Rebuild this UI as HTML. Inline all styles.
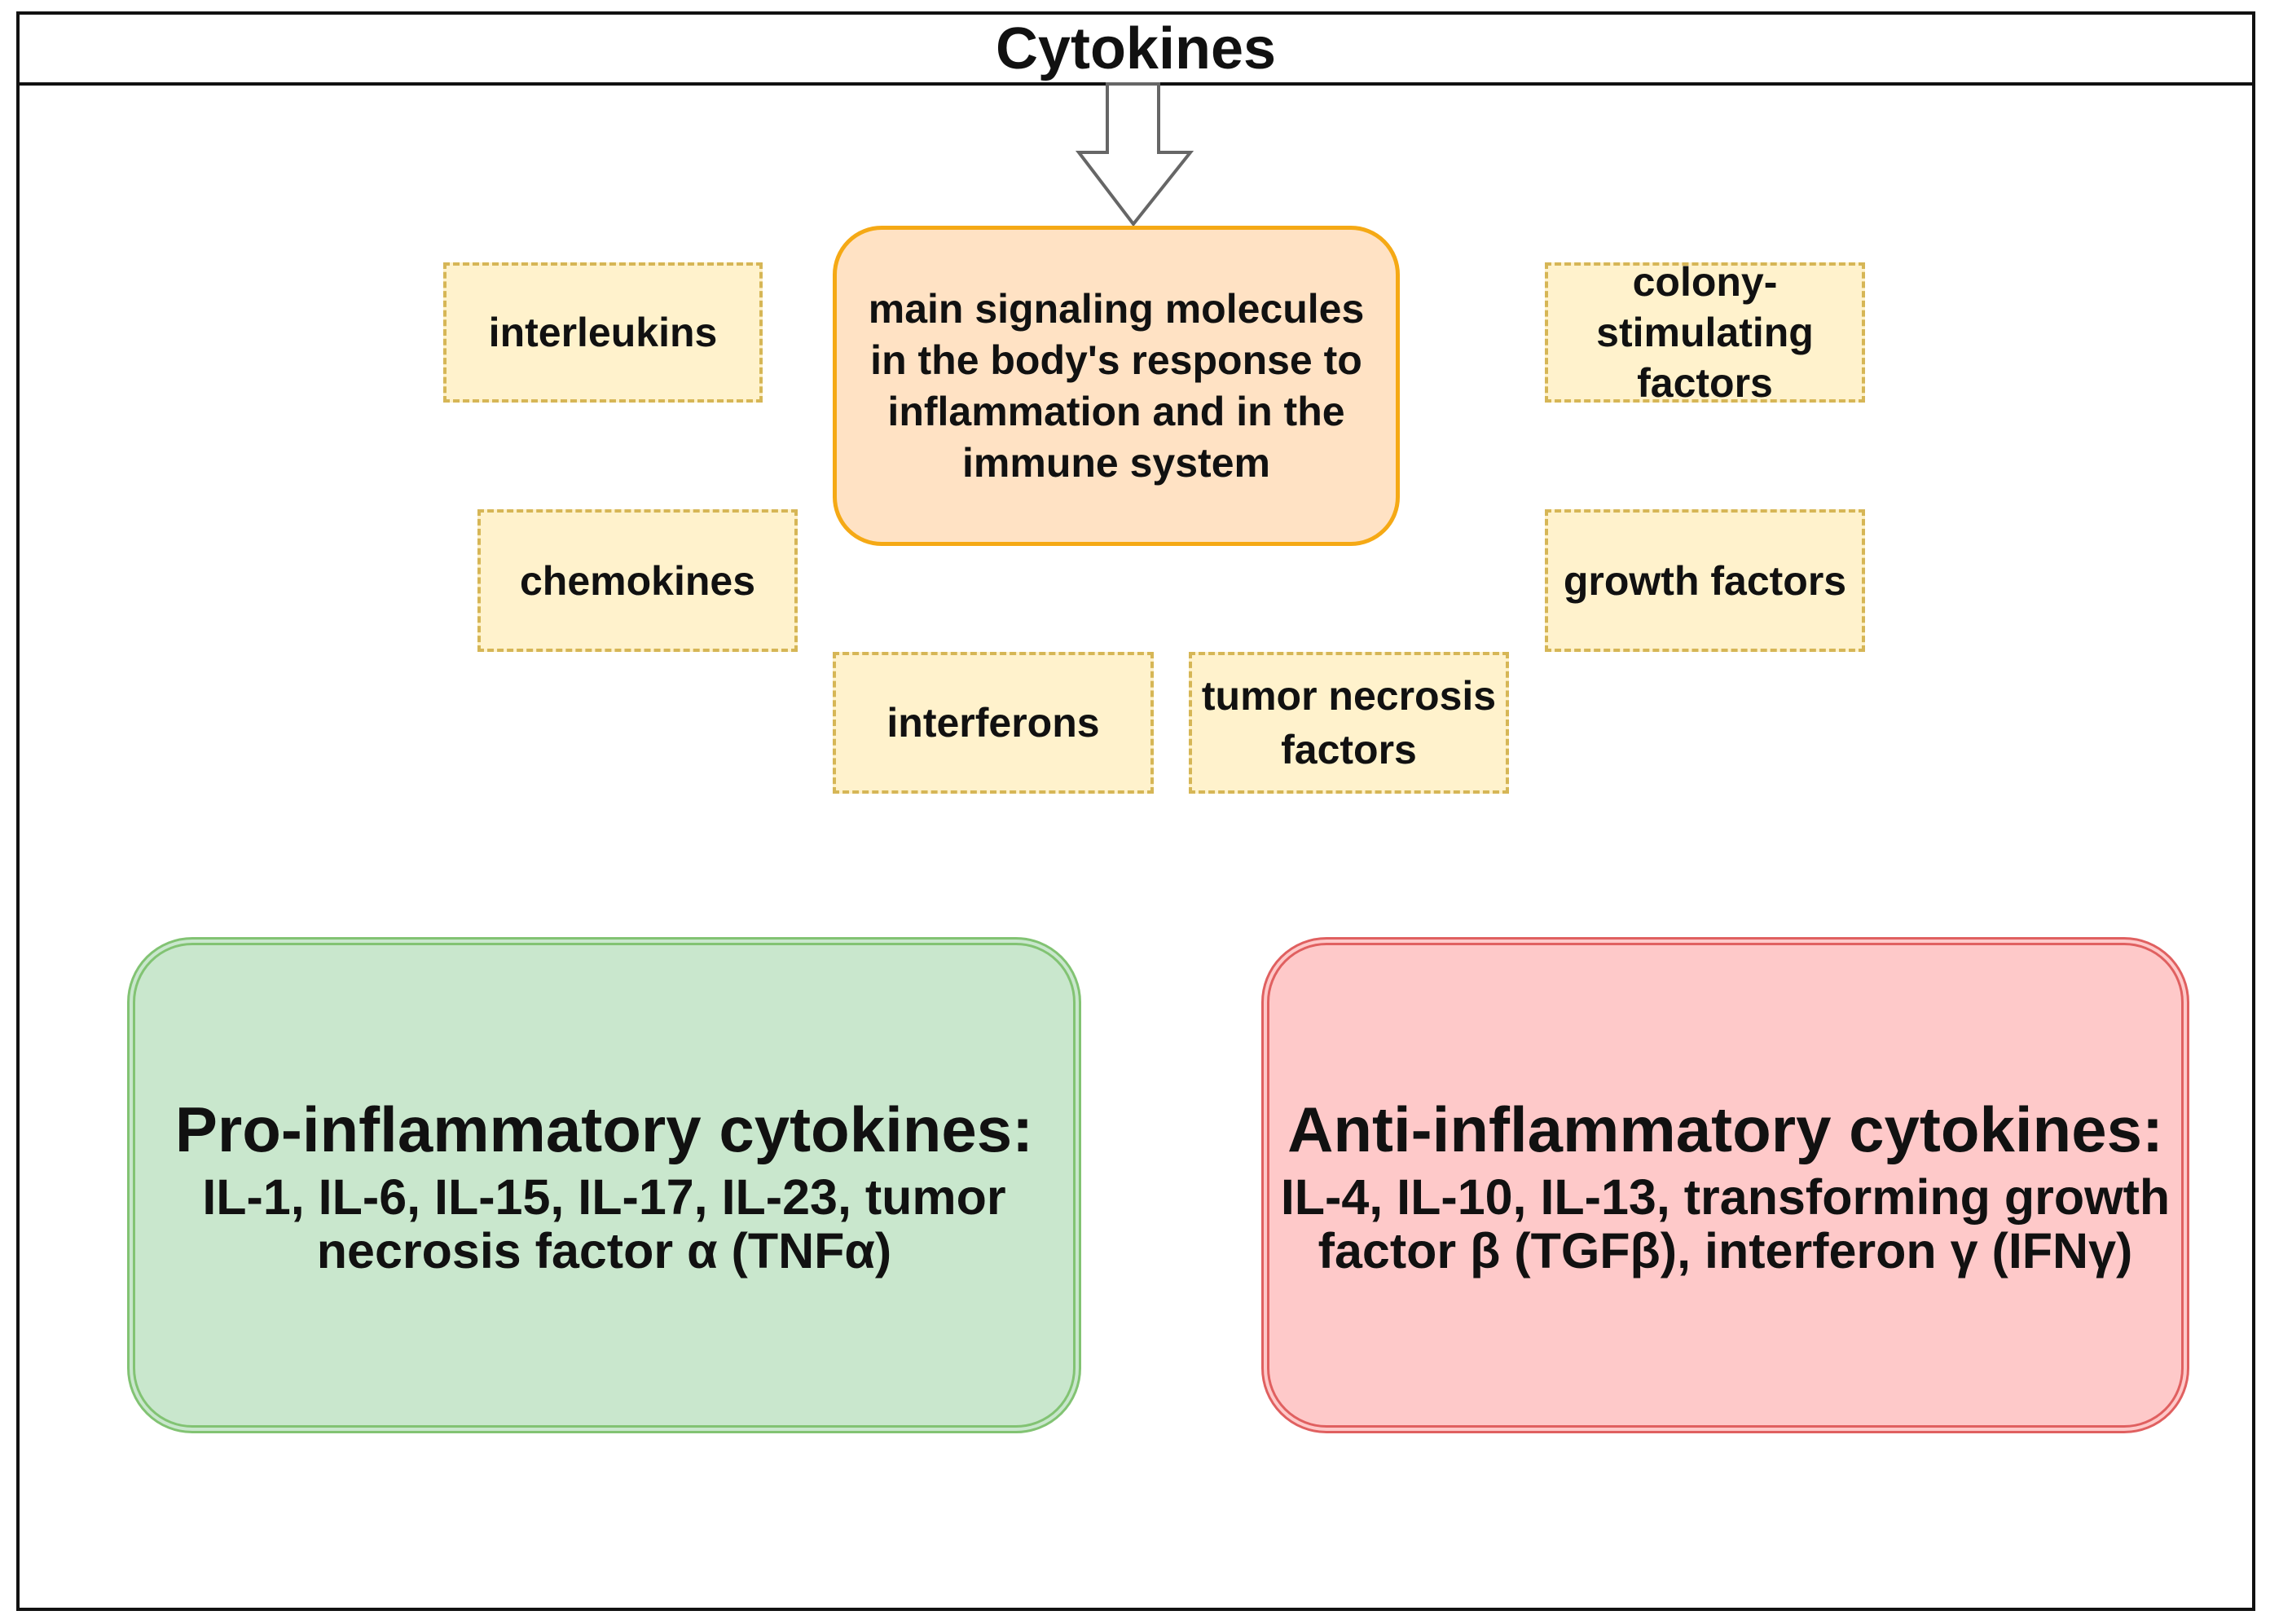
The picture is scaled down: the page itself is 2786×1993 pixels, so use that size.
<!DOCTYPE html>
<html><head><style>
body{margin:0;width:2786px;height:1993px;background:#fff;position:relative;font-family:"Liberation Sans",Arial,sans-serif;font-weight:bold;color:#111;overflow:hidden}
.a{position:absolute;box-sizing:border-box;display:flex;align-items:center;justify-content:center;text-align:center}
.y{background:#fff2cc;border:4px dashed #d6b656;font-size:50px;line-height:62px}
</style></head><body>
<div class="a" style="left:20px;top:14px;width:2748px;height:1963px;border:4px solid #111"></div>
<div class="a" style="left:20px;top:14px;width:2748px;height:91px;border:4px solid #111;font-size:72px">Cytokines</div>
<svg style="position:absolute;left:0;top:0" width="2786" height="400">
<polygon points="1359,103 1422,103 1422,187 1461,187 1391,275 1324,187 1359,187" fill="#fff" stroke="#666" stroke-width="4"/>
</svg>
<div class="a" style="left:1022px;top:277px;width:696px;height:393px;background:#ffe2c4;border:5px solid #f5a915;border-radius:60px;font-size:50px;line-height:63px">main signaling molecules<br>in the body's response to<br>inflammation and in the<br>immune system</div>
<div class="a y" style="left:544px;top:322px;width:392px;height:172px">interleukins</div>
<div class="a y" style="left:1896px;top:322px;width:393px;height:172px">colony-<br>stimulating<br>factors</div>
<div class="a y" style="left:586px;top:625px;width:393px;height:175px">chemokines</div>
<div class="a y" style="left:1896px;top:625px;width:393px;height:175px">growth factors</div>
<div class="a y" style="left:1022px;top:800px;width:394px;height:174px">interferons</div>
<div class="a y" style="left:1459px;top:800px;width:393px;height:174px;line-height:66px">tumor necrosis<br>factors</div>
<div class="a" style="left:156px;top:1150px;width:1171px;height:609px;background:#c9e7cd;border:10px double #82c373;border-radius:80px;flex-direction:column">
<div style="font-size:78px;margin-bottom:4px">Pro-inflammatory cytokines:</div>
<div style="font-size:61px;line-height:66px">IL-1, IL-6, IL-15, IL-17, IL-23, tumor<br>necrosis factor α (TNFα)</div></div>
<div class="a" style="left:1548px;top:1150px;width:1139px;height:609px;background:#fec9c9;border:10px double #e06060;border-radius:80px;flex-direction:column">
<div style="font-size:78px;margin-bottom:4px;white-space:nowrap">Anti-inflammatory cytokines:</div>
<div style="font-size:61px;line-height:66px;white-space:nowrap">IL-4, IL-10, IL-13, transforming growth<br>factor β (TGFβ), interferon γ (IFNγ)</div></div>
</body></html>
